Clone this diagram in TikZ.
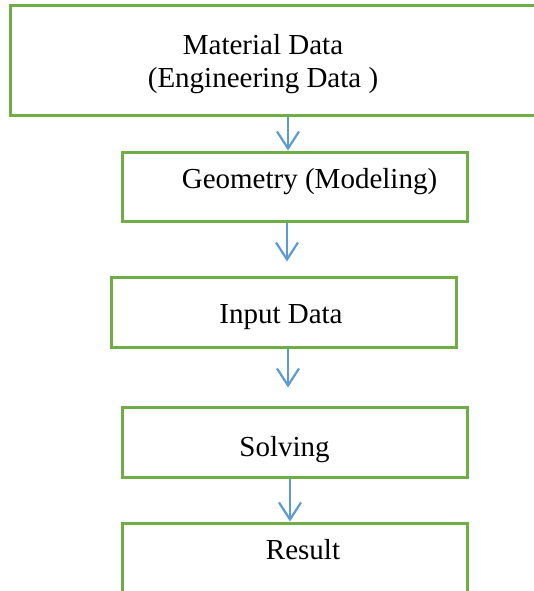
\documentclass[tikz,border=0pt]{standalone}
\usepackage{fontspec}
\setmainfont{Liberation Serif}
\usetikzlibrary{arrows.meta,positioning,calc}
\definecolor{boxG}{RGB}{112,173,71}
\definecolor{arrB}{RGB}{91,155,213}
\tikzset{
  box/.style={rectangle, draw=boxG, line width=3pt, inner sep=0pt,
              minimum width=#1},
  box/.default=345pt,
  lbl/.style={anchor=base, inner sep=0pt, align=center,
              font=\fontsize{29}{33.5}\selectfont},
  arr/.style={-{Straight Barb[length=17pt, width=22pt, line width=2.2pt]}, line width=2.2pt, draw=arrB},
}
\begin{document}
\begin{tikzpicture}[x=1pt, y=-1pt]
        \path[use as bounding box, clip] (0,0) rectangle (534,591);
        % boxes
        \node[box=550pt, minimum height=110pt] (matB) at (285,61) {};
        \node[box, minimum height=69pt] (geoB) at (294.5,186.5) {};
        \node[box, minimum height=70pt] (inpB) at (283.5,312) {};
        \node[box, minimum height=70pt] (solB) at (294.5,442) {};
        \node[box, minimum height=117pt] (resB) at (294.5,581.5) {};
        % texts
        \node[lbl] (mat) at (263,88) {Material Data\\(Engineering Data )};
        \node[lbl] (geo) at (309.5,188) {Geometry (Modeling)};
        \node[lbl] (inp) at (281,323.3) {Input Data};
        \node[lbl] (sol) at (284.5,456.7) {Solving};
        \node[lbl] (res) at (303,559) {Result};
        % arrows
        \coordinate (a1) at (288,0);
        \coordinate (a2) at (287,0);
        \coordinate (a3) at (288,0);
        \coordinate (a4) at (290,0);
        \draw[arr] (matB.south -| a1) -- (geoB.north -| a1);
        \draw[arr, shorten >=14pt] (geoB.south -| a2) -- (inpB.north -| a2);
        \draw[arr, shorten >=18pt] (inpB.south -| a3) -- (solB.north -| a3);
        \draw[arr] (solB.south -| a4) -- (resB.north -| a4);
      \end{tikzpicture}
\end{document}
